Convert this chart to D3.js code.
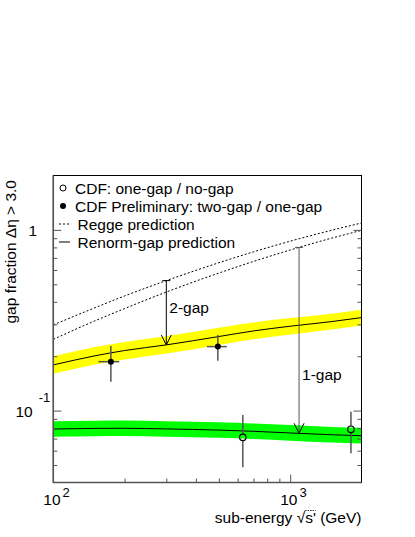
<!DOCTYPE html>
<html>
<head>
<meta charset="utf-8">
<script src="https://cdn.jsdelivr.net/npm/d3@7"></script>
<style>
body{margin:0;background:#fff;}
text{font-family:"Liberation Sans",Arial,Helvetica,sans-serif;fill:#000;}
</style>
</head>
<body>
<div class="canvas"></div>
<script>
// sub-energy grid used for the prediction curves (GeV)
const energies=[100,150,200,300,500,700,1000,1500,2000];

// Regge prediction, two dashed curves
const reggeUpper=[0.298,0.371,0.431,0.524,0.658,0.756,0.866,0.996,1.092];
const reggeLower=[0.248,0.314,0.367,0.453,0.577,0.669,0.774,0.901,0.994];

// renorm-gap prediction, two-gap / one-gap (yellow band)
const twoGapMid =[0.179,0.201,0.215,0.231,0.257,0.276,0.293,0.311,0.327];
const twoGapLow =[0.160,0.180,0.192,0.207,0.231,0.248,0.264,0.281,0.296];
const twoGapHigh=[0.200,0.225,0.240,0.258,0.287,0.307,0.325,0.344,0.362];

// renorm-gap prediction, one-gap / no-gap (green band)
const oneGapMid =[0.0791,0.0797,0.0798,0.0792,0.0780,0.0768,0.0752,0.0735,0.0726];
const oneGapLow =[0.0717,0.0722,0.0723,0.0717,0.0707,0.0696,0.0681,0.0665,0.0657];
const oneGapHigh=[0.0873,0.0880,0.0881,0.0874,0.0861,0.0848,0.0831,0.0812,0.0803];

// CDF data
const twoGapData=[
  {x:175,y:0.1865,lo:0.1445,hi:0.228,xlo:155,xhi:190},
  {x:495,y:0.226,lo:0.189,hi:0.262,xlo:445,xhi:540}
];
const oneGapData=[
  {x:631,y:0.0711,lo:0.0486,hi:0.0945},
  {x:1805,y:0.0788,lo:0.058,hi:0.0986}
];

// gap arrows: from Regge to renorm-gap
const arrows=[
  {x:300,from:0.524,to:0.2307,label:'2-gap',color:'#000'},
  {x:1090,from:0.80,to:0.0749,label:'1-gap',color:'#555'}
];

const legendItems=[
  {label:'CDF: one-gap / no-gap',type:'open'},
  {label:'CDF Preliminary: two-gap / one-gap',type:'filled'},
  {label:'Regge prediction',type:'dash'},
  {label:'Renorm-gap prediction',type:'line'}
];

const dims={width:415,height:537};
const plot={left:53.3,right:361.5,top:175.5,bottom:482.5};
const fontSize=15.5;

const svg=d3.select('.canvas')
.append('svg')
.attr('width',dims.width)
.attr('height',dims.height);

const x=d3.scaleLog().domain([100,2000]).range([plot.left,plot.right]);
const y=d3.scaleLog().domain([0.04,2]).range([plot.bottom,plot.top]);

const graph=svg.append('g');

// bands
const band=(low,high)=>d3.area()
.x((d,i)=>x(energies[i]))
.y0((d,i)=>y(low[i]))
.y1((d,i)=>y(high[i]))
.curve(d3.curveMonotoneX)(energies);

graph.append('path').attr('d',band(twoGapLow,twoGapHigh)).attr('fill','#ffff00');
graph.append('path').attr('d',band(oneGapLow,oneGapHigh)).attr('fill','#00ff00');

const curve=d3.line()
.x(d=>x(d[0]))
.y(d=>y(d[1]))
.curve(d3.curveMonotoneX);

const pairs=vals=>energies.map((e,i)=>[e,vals[i]]);

graph.append('path').attr('d',curve(pairs(twoGapMid))).attr('fill','none').attr('stroke','#000').attr('stroke-width',1);
graph.append('path').attr('d',curve(pairs(oneGapMid))).attr('fill','none').attr('stroke','#000').attr('stroke-width',1);

[reggeUpper,reggeLower].forEach(vals=>{
  graph.append('path').attr('d',curve(pairs(vals)))
  .attr('fill','none').attr('stroke','#000').attr('stroke-width',1)
  .attr('stroke-dasharray','2,2');
});

// arrows
arrows.forEach(a=>{
  const ax=x(a.x), y0=y(a.from), y1=y(a.to);
  const g=graph.append('g').attr('stroke',a.color).attr('stroke-width',1).attr('fill','none');
  g.append('line').attr('x1',ax).attr('x2',ax).attr('y1',y0).attr('y2',y1);
  g.append('line').attr('x1',ax-4).attr('x2',ax+4).attr('y1',y0).attr('y2',y0);
  g.append('path').attr('d',`M${ax-5},${y1-10}L${ax},${y1}L${ax+5},${y1-10}`).attr('stroke','#000');
});
graph.append('text').attr('x',x(arrows[0].x)+3).attr('y',313).attr('font-size',fontSize).text(arrows[0].label);
graph.append('text').attr('x',x(arrows[1].x)+3).attr('y',380).attr('font-size',fontSize).text(arrows[1].label);

// error bars + points
const errColor='#555';
twoGapData.forEach(d=>{
  graph.append('line').attr('x1',x(d.x)).attr('x2',x(d.x)).attr('y1',y(d.hi)).attr('y2',y(d.lo))
  .attr('stroke',errColor).attr('stroke-width',1.5);
  graph.append('line').attr('x1',x(d.xlo)).attr('x2',x(d.xhi)).attr('y1',y(d.y)).attr('y2',y(d.y))
  .attr('stroke',errColor).attr('stroke-width',1.5);
  graph.append('circle').attr('cx',x(d.x)).attr('cy',y(d.y)).attr('r',3).attr('fill','#000');
});
const r=3.3;
oneGapData.forEach(d=>{
  graph.append('line').attr('x1',x(d.x)).attr('x2',x(d.x)).attr('y1',y(d.hi)).attr('y2',y(d.y)-r)
  .attr('stroke',errColor).attr('stroke-width',1.5);
  graph.append('line').attr('x1',x(d.x)).attr('x2',x(d.x)).attr('y1',y(d.y)+r).attr('y2',y(d.lo))
  .attr('stroke',errColor).attr('stroke-width',1.5);
  graph.append('circle').attr('cx',x(d.x)).attr('cy',y(d.y)).attr('r',r)
  .attr('fill','none').attr('stroke','#000').attr('stroke-width',1.2);
});

// frame
svg.append('rect')
.attr('x',plot.left).attr('y',plot.top)
.attr('width',plot.right-plot.left).attr('height',plot.bottom-plot.top)
.attr('fill','none').attr('stroke','#000').attr('stroke-width',1);

const isMajor=v=>Math.abs(Math.log10(v)-Math.round(Math.log10(v)))<1e-6;
const yTicks=y.ticks().filter(v=>v>0.04&&v<2);
const xTicks=x.ticks().filter(v=>v>100&&v<2000);

const tickAxis=(axisFn,scale,vals,size,tr)=>{
  const g=svg.append('g').attr('transform',tr)
  .call(axisFn(scale).tickValues(vals).tickSize(size).tickFormat(''));
  g.select('.domain').remove();
  g.selectAll('line').attr('stroke','#555').attr('stroke-width',1);
};
// left & right (inward)
tickAxis(d3.axisRight,y,yTicks.filter(v=>!isMajor(v)),4,`translate(${plot.left},0)`);
tickAxis(d3.axisRight,y,yTicks.filter(isMajor),8,`translate(${plot.left},0)`);
tickAxis(d3.axisLeft,y,yTicks.filter(v=>!isMajor(v)),4,`translate(${plot.right},0)`);
tickAxis(d3.axisLeft,y,yTicks.filter(isMajor),8,`translate(${plot.right},0)`);
// bottom (upward)
tickAxis(d3.axisTop,x,xTicks.filter(v=>!isMajor(v)),4,`translate(0,${plot.bottom})`);
tickAxis(d3.axisTop,x,xTicks.filter(isMajor),8,`translate(0,${plot.bottom})`);

// gray left / bottom axis lines
svg.append('line').attr('x1',plot.left).attr('x2',plot.left).attr('y1',plot.top).attr('y2',plot.bottom)
.attr('stroke','#555').attr('stroke-width',1.5);
svg.append('line').attr('x1',plot.left).attr('x2',plot.right).attr('y1',plot.bottom).attr('y2',plot.bottom)
.attr('stroke','#555').attr('stroke-width',1.5);

// tick labels
const xLabels=[100,1000];
xLabels.forEach(v=>{
  const t=svg.append('text').attr('x',x(v)-10).attr('y',505).attr('font-size',fontSize);
  t.append('tspan').text('10');
  t.append('tspan').attr('dx',2).attr('dy',-8).attr('font-size',13).text(Math.round(Math.log10(v)));
});
svg.append('text').attr('x',37).attr('y',y(1)+6).attr('text-anchor','end').attr('font-size',fontSize).text('1');
{
  const t=svg.append('text').attr('x',15.5).attr('y',y(0.1)+6.5).attr('font-size',fontSize);
  t.append('tspan').text('10');
  t.append('tspan').attr('dx',6).attr('dy',-15).attr('font-size',13).text('-1');
}

// axis titles
const xt=svg.append('text')
.attr('x',plot.right).attr('y',523)
.attr('text-anchor','end').attr('font-size',fontSize)
.text("sub-energy \u221As' (GeV)");
{
  const node=xt.node();
  const str=node.textContent;
  const i=str.indexOf('\u221A');
  const s0=node.getStartPositionOfChar(i+1), s1=node.getEndPositionOfChar(i+2);
  svg.append('line').attr('x1',s0.x).attr('x2',s1.x).attr('y1',523-12.5).attr('y2',523-12.5)
  .attr('stroke','#000').attr('stroke-width',0.8).attr('stroke-dasharray','1.5,1');
}
svg.append('text')
.attr('transform','translate(16,180) rotate(-90)')
.attr('text-anchor','end').attr('font-size',fontSize)
.text('gap fraction \u0394\u03B7 > 3.0');

// legend
const legendY=[188,206,224,242];
const legend=svg.append('g');
legendItems.forEach((item,i)=>{
  const cy=legendY[i];
  if(item.type==='open'){
    legend.append('circle').attr('cx',63).attr('cy',cy).attr('r',3).attr('fill','none').attr('stroke','#000').attr('stroke-width',1);
  }else if(item.type==='filled'){
    legend.append('circle').attr('cx',63).attr('cy',cy).attr('r',3).attr('fill','#000');
  }else{
    legend.append('line').attr('x1',59).attr('x2',70).attr('y1',cy).attr('y2',cy)
    .attr('stroke','#000').attr('stroke-width',1)
    .attr('stroke-dasharray',item.type==='dash'?'2,2':null);
  }
  legend.append('text').attr('x',i<2?75:77.5).attr('y',cy+6).attr('font-size',fontSize).text(item.label);
});
</script>
</body>
</html>
